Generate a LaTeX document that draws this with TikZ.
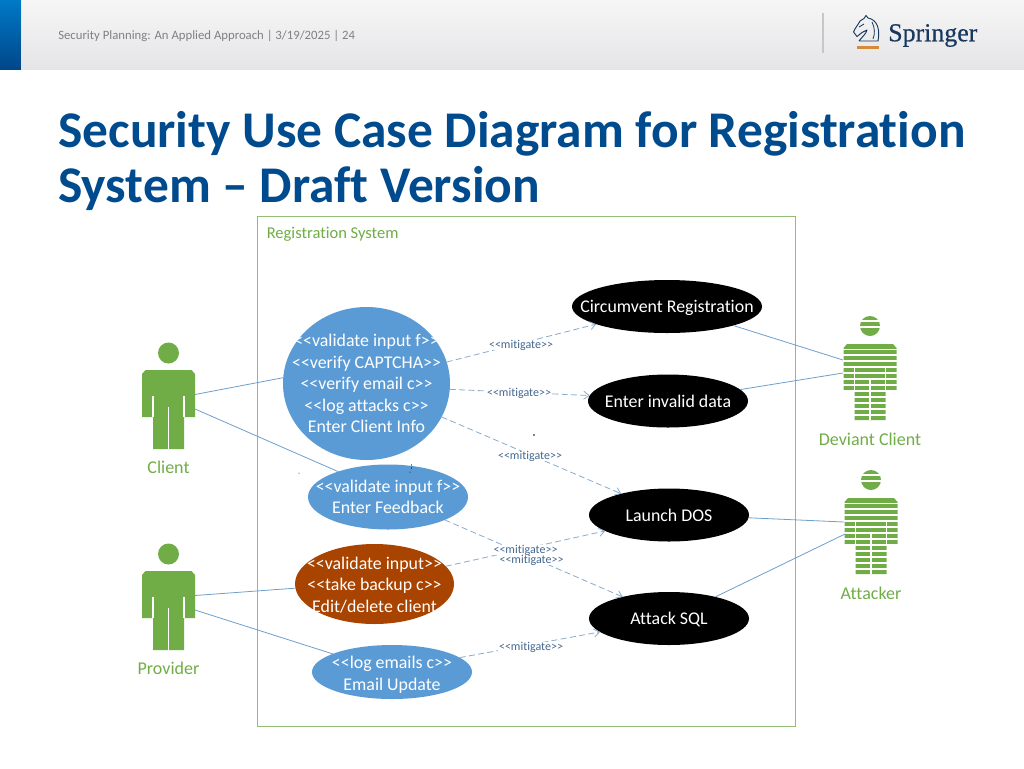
\documentclass[tikz,border=0pt]{standalone}
\usepackage{fontspec}
\usetikzlibrary{shapes.geometric,arrows.meta}
\newfontfamily\calf[Ligatures=NoCommon]{Carlito}
\newfontfamily\sprf[FakeBold=0.5]{Liberation Serif}
\definecolor{hdrtop}{HTML}{F6F6F7}
\definecolor{hdrbot}{HTML}{E5E5E7}
\definecolor{bartop}{HTML}{0079C6}
\definecolor{barbot}{HTML}{00478A}
\definecolor{titleblue}{HTML}{004B8D}
\definecolor{grn}{HTML}{70AD47}
\definecolor{framegrn}{HTML}{93BC76}
\definecolor{ucblue}{HTML}{5B9BD5}
\definecolor{ucbrown}{HTML}{A94300}
\definecolor{linkblue}{HTML}{6F9FCB}
\definecolor{dashblue}{HTML}{8AACCD}
\definecolor{mitcol}{HTML}{44688F}
\definecolor{navy}{HTML}{17375E}
\definecolor{orng}{HTML}{D68B3C}
\tikzset{
  x=0.75pt,y=-0.75pt,
  uc/.style n args={3}{ellipse,fill=#3,inner sep=0pt,outer sep=0pt,
     minimum width=#1*0.75pt,minimum height=#2*0.75pt},
  ucin/.style={text=white,align=center,inner sep=0pt,font=\calf\fontsize{13.4}{16.1}\selectfont},
  mit/.style={fill=white,inner xsep=0.5pt,inner ysep=0pt,text height=6pt,text depth=1pt,
     text=mitcol,font=\calf\fontsize{9}{10}\selectfont},
  actorlabel/.style={text=grn,font=\calf\fontsize{13.5}{16}\selectfont},
  assoc/.style={draw=linkblue,line width=0.6pt},
  mitlink/.style={draw=dashblue,line width=0.6pt,dash pattern=on 4.5pt off 2.5pt,
     -{Straight Barb[length=4pt,width=6pt]}},
  actor/.pic={
    \fill[grn] (0,0) circle[radius=10.5];
    \fill[grn] (-23,17)--(23,17)--(26.5,21)--(26.5,64)--(15.5,64)--(15.5,96)--(-15.5,96)--(-15.5,64)--(-26.5,64)--(-26.5,21)--cycle;
    \draw[white,line width=0.8pt] (-15.5,43)--(-15.5,64) (15.5,43)--(15.5,64) (0,54)--(0,96);
  },
  stripedactor/.pic={
    \fill[grn] (0,0) circle[radius=10];
    \fill[grn] (-23,18)--(23,18)--(26.5,22)--(26.5,64)--(15.5,64)--(15.5,94)--(-15.5,94)--(-15.5,64)--(-26.5,64)--(-26.5,22)--cycle;
    \draw[white,line width=0.8pt] (-15.5,40)--(-15.5,64) (15.5,40)--(15.5,64) (0,52)--(0,94);
    \draw[white,line width=1.2pt] (-12,-5)--(12,-5) (-12,1)--(12,1);
    \foreach \s in {23.3,29,34.7,40.7,46.7,52.7,58.7,64.7,71,77,83,89}
      \draw[white,line width=1.2pt] (-28,\s)--(28,\s);
  },
}
\begin{document}
\begin{tikzpicture}
\useasboundingbox (0,0) rectangle (1024,768);
\fill[white] (0,0) rectangle (1024,768);
% header
\shade[top color=hdrtop,bottom color=hdrbot] (22,0) rectangle (1024,69);
\shade[top color=bartop,bottom color=barbot] (0,0) rectangle (21,69);
\node[anchor=west,inner sep=0pt,text=black!50,font=\calf\fontsize{9.55}{11}\selectfont] (hdr) at (58,36)
  {Security Planning: An Applied Approach | 3/19/2025 | 24};
\draw[black!22,line width=0.9pt] (823,13)--(823,53);
% logo
\draw[navy,line width=0.7pt,line join=round]
  (859,41)--(878,41) .. controls (880,30) and (878,20) .. (868,18)
  --(866,15.5)--(864,18.5)--(860,21) .. controls (858,25) and (855,28) .. (853.5,32)
  --(857,36.5)--(862,32.5)--(867,30) .. controls (866,34) and (862,37) .. (859,41);
\draw[navy,line width=0.6pt] (859,27)--(864,24) (872,22) .. controls (875,28) and (875,34) .. (873,39);
\fill[orng] (857,46) rectangle (879,48.5);
\node[anchor=west,inner sep=0pt,text=navy,font=\sprf\fontsize{19.4}{22}\selectfont] (logo) at (888,35.5) {Springer};
% title
\node[anchor=north west,inner sep=0pt,align=left,text=titleblue,font=\calf\bfseries\fontsize{38.6}{41}\selectfont] (title) at (58,111)
  {Security Use Case Diagram for Registration\\System – Draft Version};
% frame
\node[draw=framegrn,line width=0.6pt,minimum width=403.5pt,minimum height=382.5pt,inner sep=0pt,anchor=north west] (frame) at (257,216) {};
\node[anchor=west,inner sep=0pt,text=grn,font=\calf\fontsize{12.4}{14}\selectfont] (frametitle) at (266.5,234) {Registration System};
% actors
\pic at (168.5,353) {actor};
\pic at (168.5,554) {actor};
\pic at (870,326) {stripedactor};
\pic at (871,480) {stripedactor};
\node[actorlabel] (clientlbl) at (168.5,467) {Client};
\node[actorlabel] (providerlbl) at (168.5,668) {Provider};
\node[actorlabel] (deviantlbl) at (870,439.5) {Deviant Client};
\node[actorlabel] (attackerlbl) at (871,593.5) {Attacker};
\coordinate (clientA) at (195,394.5);
\coordinate (clientB) at (195,409);
\coordinate (providerA) at (195,595.5);
\coordinate (providerB) at (195,610);
\coordinate (deviantA) at (843,360);
\coordinate (deviantB) at (843,373);
\coordinate (attackerA) at (844,522);
\coordinate (attackerB) at (845,534);
% use cases
\node[uc={167}{153}{ucblue}] (info) at (366.5,383.5) {};
\node[uc={160}{65}{ucblue}] (feedback) at (388,497) {};
\node[uc={159}{80}{ucbrown}] (edit) at (374.5,584) {};
\node[uc={160}{54}{ucblue}] (email) at (392,672) {};
\node[uc={190}{53}{black}] (circ) at (667,306.5) {};
\node[uc={160}{53}{black}] (invalid) at (668,401) {};
\node[uc={160}{53}{black}] (dos) at (669,515) {};
\node[uc={160}{53}{black}] (sql) at (669,618.5) {};
% solid links
\draw[assoc] (clientA) -- (info.176);
\draw[assoc] (clientB) -- (feedback.153);
\draw[assoc] (providerA) -- (edit.183);
\draw[assoc] (providerB) -- (email.163);
\draw[assoc] (circ.-16) -- (deviantA);
\draw[assoc] (invalid.9.5) -- (deviantB);
\draw[assoc] (dos.-2) -- (attackerA);
\draw[assoc] (sql.25) -- (attackerB);
% mitigate links
\draw[mitlink] (info.15) -- (circ.194);
\draw[mitlink] (info.-4) -- (invalid.176);
\draw[mitlink] (info.-24) -- (dos.156);
\draw[mitlink] (feedback.-22) -- (sql.155);
\draw[mitlink] (edit.14) -- (dos.194);
\draw[mitlink] (email.12) -- (sql.191);
\node[mit] (m1) at (521,345) {<<mitigate>>};
\node[mit] (m2) at (519,393.5) {<<mitigate>>};
\node[mit] (m3) at (530,456) {<<mitigate>>};
\node[mit] (m4) at (525.5,550) {<<mitigate>>};
\node[mit] (m5) at (531.5,560) {<<mitigate>>};
\node[mit] (m6) at (531,647) {<<mitigate>>};
% use case texts
\node[ucin] (infot) at (info.center) {<<validate input f>>\\<<verify CAPTCHA>>\\<<verify email c>>\\<<log attacks c>>\\Enter Client Info};
\node[ucin] (feedbackt) at (feedback.center) {<<validate input f>>\\Enter Feedback};
\node[ucin] (editt) at ([yshift=-0.7pt]edit.center) {<<validate input>>\\<<take backup c>>\\Edit/delete client};
\node[ucin] (emailt) at ([yshift=-2pt]email.center) {<<log emails c>>\\Email Update};
\node[ucin] (circt) at ([yshift=-1.2pt]circ.center) {Circumvent Registration};
\node[ucin] (invalidt) at ([yshift=-0.5pt]invalid.center) {Enter invalid data};
\node[ucin] (dost) at ([yshift=-0.5pt]dos.center) {Launch DOS};
\node[ucin] (sqlt) at ([yshift=-0.5pt]sql.center) {Attack SQL};
% specks
\fill[black] (534,435) circle[radius=0.8] (299,473) circle[radius=0.5] (411.5,465) circle[radius=0.6] (411.5,468) circle[radius=0.6] (410,472) circle[radius=0.5];
\end{tikzpicture}
\end{document}
